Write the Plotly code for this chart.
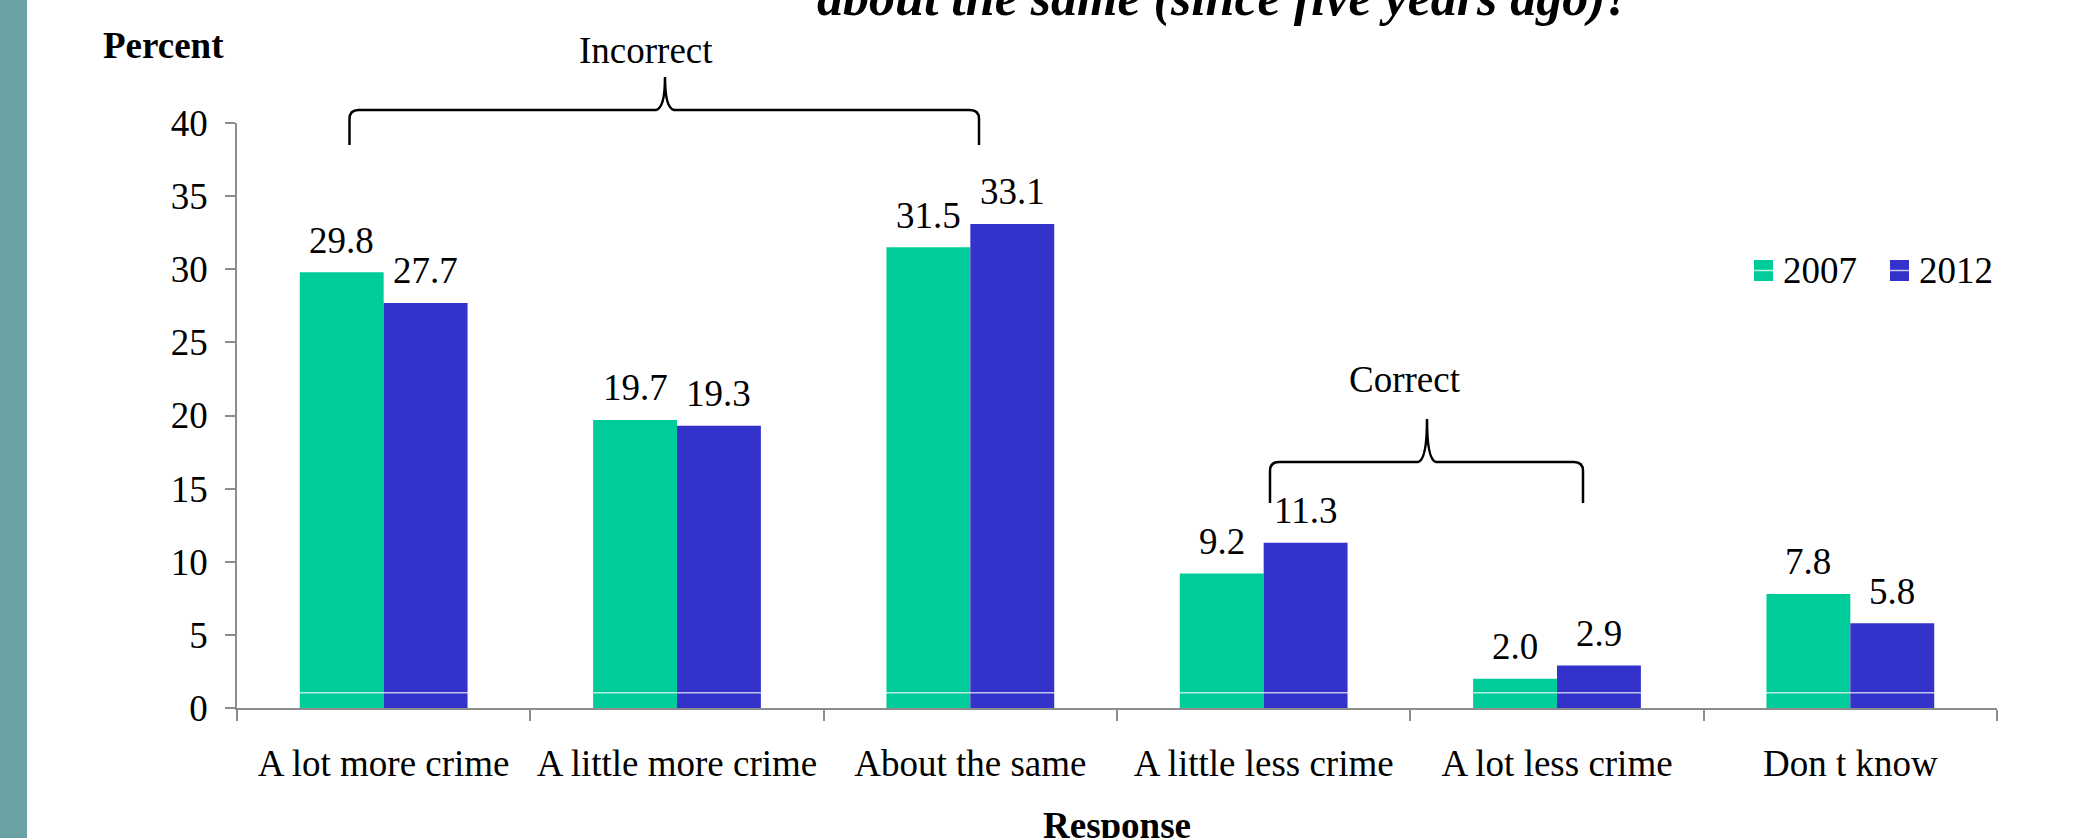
import plotly.graph_objects as go

# Survey responses (percent) for the two survey years
categories = ["A lot more crime", "A little more crime", "About the same",
              "A little less crime", "A lot less crime", "Don t know"]
values_2007 = [29.8, 19.7, 31.5, 9.2, 2.0, 7.8]
values_2012 = [27.7, 19.3, 33.1, 11.3, 2.9, 5.8]
series_names = ["2007", "2012"]
y_ticks = [0, 5, 10, 15, 20, 25, 30, 35, 40]

W, H = 2082, 838
M_L, M_R, M_T, M_B = 237, 85, 123, 130
PLOT_W = W - M_L - M_R
PLOT_H = H - M_T - M_B

GREEN = "#00CC99"
BLUE = "#3333CC"
AXIS_GRAY = "#8c8c8c"
FONT = "Liberation Serif"
FS = 37
BARGAP = 0.428


def fx(px):
    """pixel x -> paper x"""
    return (px - M_L) / PLOT_W


def fy(py):
    """pixel y (from top) -> paper y"""
    return (H - M_B - py) / PLOT_H


def brace_path(x_left, x_right, x_peak, y_bar, y_end, y_tip, r=9, cusp=9):
    pts = [
        f"M{fx(x_left)},{fy(y_end)}",
        f"L{fx(x_left)},{fy(y_bar + r)}",
        f"Q{fx(x_left)},{fy(y_bar)} {fx(x_left + r)},{fy(y_bar)}",
        f"L{fx(x_peak - cusp)},{fy(y_bar)}",
        f"Q{fx(x_peak)},{fy(y_bar - 2)} {fx(x_peak)},{fy(y_tip)}",
        f"Q{fx(x_peak)},{fy(y_bar - 2)} {fx(x_peak + cusp)},{fy(y_bar)}",
        f"L{fx(x_right - r)},{fy(y_bar)}",
        f"Q{fx(x_right)},{fy(y_bar)} {fx(x_right)},{fy(y_bar + r)}",
        f"L{fx(x_right)},{fy(y_end)}",
    ]
    return " ".join(pts)


fig = go.Figure()
for name, vals, color in [(series_names[0], values_2007, GREEN),
                          (series_names[1], values_2012, BLUE)]:
    fig.add_trace(go.Bar(
        x=categories, y=vals, name=name, marker_color=color,
        marker_line_width=0, showlegend=False,
    ))

annotations = []

# value labels above each bar
bar_px = (1 - BARGAP) * PLOT_W / len(categories) / 2
for vals, shift in [(values_2007, -bar_px / 2), (values_2012, bar_px / 2)]:
    for c, v in zip(categories, vals):
        annotations.append(dict(
            x=c, y=v, xref="x", yref="y", text=f"{v:.1f}", showarrow=False,
            xshift=shift, yshift=32, yanchor="middle",
            font=dict(size=FS, color="black", family=FONT),
        ))

# headline (last line of the question)
annotations.append(dict(
    x=fx(1224.5), y=fy(-2.5), xref="paper", yref="paper",
    text="about the same (since five years ago)?", showarrow=False,
    xanchor="center", yanchor="middle",
    font=dict(size=52, color="black", family=FONT, weight="bold", style="italic"),
))

# axis captions
annotations.append(dict(
    x=fx(101), y=fy(45), xref="paper", yref="paper", text="Percent",
    showarrow=False, xanchor="left", yanchor="middle",
    font=dict(size=FS, color="black", family=FONT, weight="bold"),
))
annotations.append(dict(
    x=0.5, y=fy(825.5), xref="paper", yref="paper", text="Response",
    showarrow=False, xanchor="center", yanchor="middle",
    font=dict(size=FS, color="black", family=FONT, weight="bold"),
))

# brace captions
annotations.append(dict(
    x=fx(646), y=fy(50.8), xref="paper", yref="paper", text="Incorrect",
    showarrow=False, xanchor="center", yanchor="middle",
    font=dict(size=FS, color="black", family=FONT),
))
annotations.append(dict(
    x=fx(1405), y=fy(379.2), xref="paper", yref="paper", text="Correct",
    showarrow=False, xanchor="center", yanchor="middle",
    font=dict(size=FS, color="black", family=FONT),
))

# legend entries
legend_items = [(series_names[0], GREEN, 1754), (series_names[1], BLUE, 1890)]
shapes = []
for name, color, x0 in legend_items:
    shapes.append(dict(
        type="rect", xref="paper", yref="paper",
        x0=fx(x0), x1=fx(x0 + 19), y0=fy(281), y1=fy(260),
        fillcolor=color, line=dict(width=0), layer="above",
    ))
    shapes.append(dict(
        type="line", xref="paper", yref="paper",
        x0=fx(x0), x1=fx(x0 + 19), y0=fy(270.5), y1=fy(270.5),
        line=dict(color="rgba(255,255,255,0.75)", width=1.5), layer="above",
    ))
    annotations.append(dict(
        x=fx(x0 + 27), y=fy(270.5), xref="paper", yref="paper", text=name,
        showarrow=False, xanchor="left", yanchor="middle",
        font=dict(size=FS, color="black", family=FONT),
    ))

# side band
shapes.append(dict(
    type="rect", xref="paper", yref="paper",
    x0=fx(0), x1=fx(27), y0=fy(H + 5), y1=fy(-5),
    fillcolor="#6aa2a4", line=dict(width=0), layer="above",
))

# faint light rule across the bars
shapes.append(dict(
    type="line", xref="paper", yref="y", x0=0, x1=1, y0=1.05, y1=1.05,
    line=dict(color="rgba(255,255,255,0.7)", width=1.5), layer="above",
))

# braces
shapes.append(dict(
    type="path", xref="paper", yref="paper",
    path=brace_path(349.5, 979, 665, 110, 145, 77),
    line=dict(color="black", width=2.5), layer="above",
))
shapes.append(dict(
    type="path", xref="paper", yref="paper",
    path=brace_path(1270, 1583, 1427, 462, 503, 419),
    line=dict(color="black", width=2.5), layer="above",
))

fig.update_layout(
    width=W, height=H,
    margin=dict(l=M_L, r=M_R, t=M_T, b=M_B, pad=0, autoexpand=False),
    paper_bgcolor="white", plot_bgcolor="white",
    barmode="group", bargap=BARGAP, bargroupgap=0,
    font=dict(family=FONT, size=FS, color="black"),
    annotations=annotations, shapes=shapes,
    xaxis=dict(
        type="category", range=[-0.5, len(categories) - 0.5],
        showline=True, linecolor=AXIS_GRAY, linewidth=1.5,
        ticks="outside", tickson="boundaries", ticklen=11, tickwidth=1.5,
        tickcolor=AXIS_GRAY, showgrid=False, zeroline=False,
        tickfont=dict(size=FS, color="black", family=FONT),
        ticklabelstandoff=22, automargin=False,
    ),
    yaxis=dict(
        range=[0, 40], tickvals=y_ticks,
        showline=True, linecolor=AXIS_GRAY, linewidth=1.5,
        ticks="outside", ticklen=10, tickwidth=1.5, tickcolor=AXIS_GRAY,
        showgrid=False, zeroline=False,
        tickfont=dict(size=FS, color="black", family=FONT),
        ticklabelstandoff=10, automargin=False,
    ),
)

fig.write_html("out.html")
